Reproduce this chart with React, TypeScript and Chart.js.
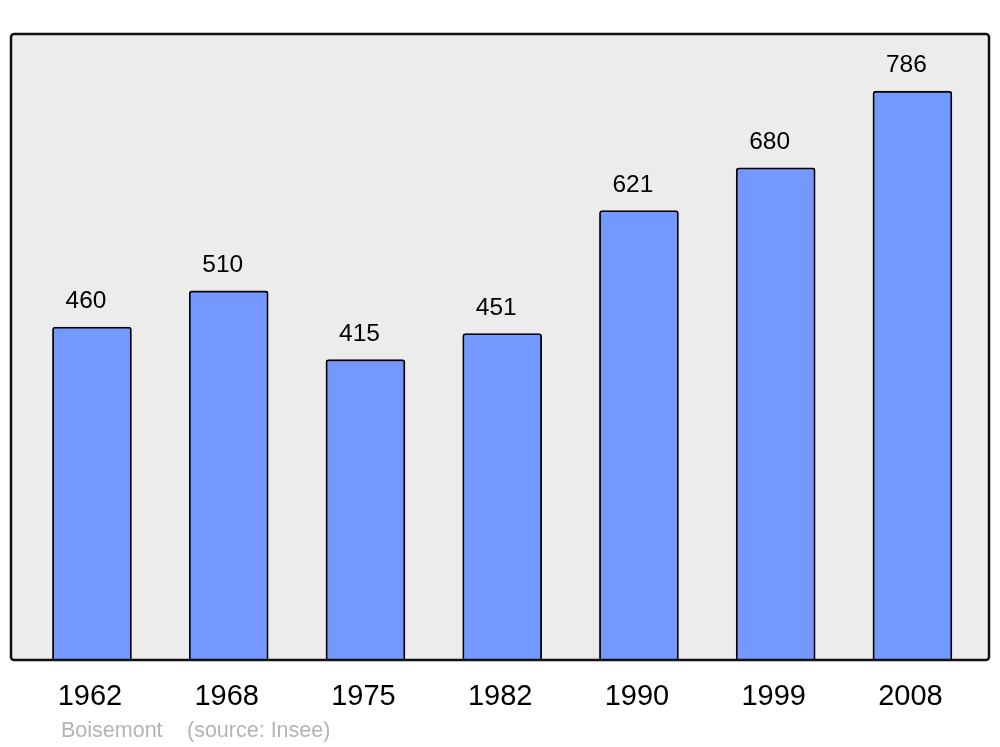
import React, { useEffect, useRef } from "react";
import { Chart, registerables } from "chart.js";

Chart.register(...registerables);

const years = ["1962", "1968", "1975", "1982", "1990", "1999", "2008"];
const population = [460, 510, 415, 451, 621, 680, 786];
const footerPlace = "Boisemont";
const footerSource = "(source: Insee)";

const decorPlugin = {
  id: "decor",
  beforeDraw(chart: any) {
    const { ctx, chartArea: a } = chart;
    ctx.save();
    ctx.fillStyle = "#ececec";
    ctx.fillRect(a.left, a.top, a.right - a.left, a.bottom - a.top);
    ctx.restore();
  },
  afterDatasetsDraw(chart: any) {
    const { ctx, chartArea: a } = chart;
    const xs = chart.scales.x;
    const ys = chart.scales.y;
    ctx.save();
    ctx.strokeStyle = "#111";
    ctx.lineWidth = 2.5;
    ctx.beginPath();
    (ctx as any).roundRect(a.left, a.top, a.right - a.left, a.bottom - a.top, 3);
    ctx.stroke();
    ctx.fillStyle = "#000";
    ctx.textAlign = "center";
    ctx.textBaseline = "alphabetic";
    ctx.font = '24.5px "Liberation Sans", Arial, sans-serif';
    population.forEach((v, i) => {
      const x = xs.getPixelForValue(i) - 6;
      const y = ys.getPixelForValue(v) - 19;
      ctx.fillText(String(v), x, y);
    });
    ctx.font = '29px "Liberation Sans", Arial, sans-serif';
    years.forEach((yr, i) => {
      const x = xs.getPixelForValue(i) - 2;
      ctx.fillText(yr, x, 705);
    });
    ctx.fillStyle = "#b4b4b4";
    ctx.textAlign = "left";
    ctx.font = '21.5px "Liberation Sans", Arial, sans-serif';
    ctx.fillText(footerPlace, 61, 737);
    ctx.fillText(footerSource, 187, 737);
    ctx.restore();
  },
};

export default function App() {
  const ref = useRef<HTMLCanvasElement>(null);
  useEffect(() => {
    if (!ref.current) return;
    const chart = new Chart(ref.current, {
      type: "bar",
      data: {
        datasets: [
          {
            data: population.map((v, i) => ({ x: i, y: v })),
            backgroundColor: "#7399ff",
            borderColor: "#000",
            borderWidth: 1.8,
            borderSkipped: "bottom",
            borderRadius: { topLeft: 3, topRight: 3, bottomLeft: 0, bottomRight: 0 },
            barThickness: 79,
          } as any,
        ],
      },
      options: {
        responsive: false,
        animation: false,
        layout: { padding: { left: 11, right: 11, top: 34, bottom: 87 } },
        plugins: { legend: { display: false }, tooltip: { enabled: false } },
        scales: {
          x: { type: "linear", display: false, offset: false, min: -0.592, max: 6.56 },
          y: { display: false, min: 0, max: 865 },
        },
      },
      plugins: [decorPlugin],
    });
    return () => chart.destroy();
  }, []);
  return (
    <div style={{ position: "absolute", left: 0, top: 0, width: 1000, height: 747, background: "#fff" }}>
      <canvas ref={ref} width={1000} height={747} />
    </div>
  );
}
